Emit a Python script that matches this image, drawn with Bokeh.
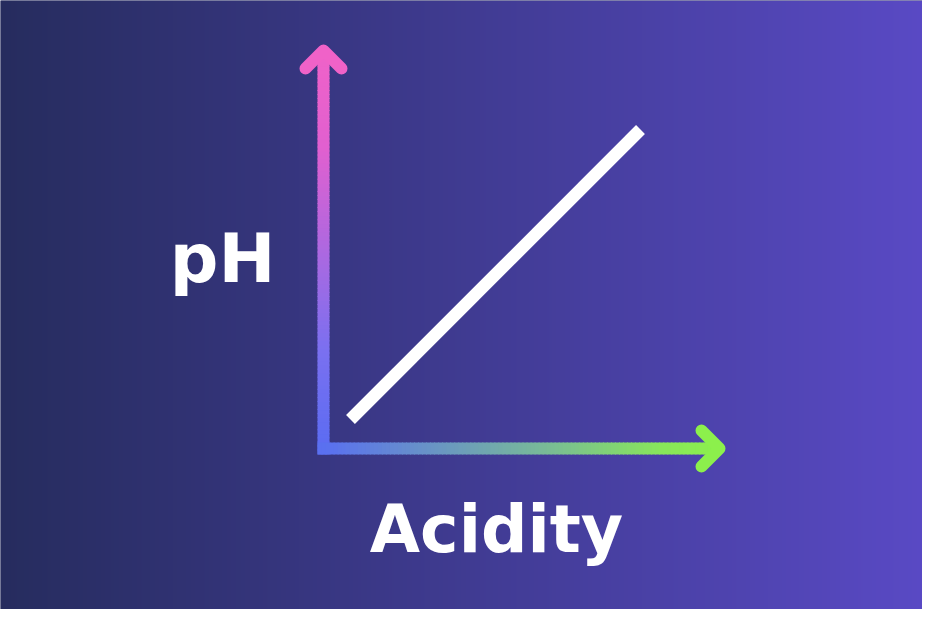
import numpy as np
from bokeh.plotting import figure
from bokeh.models import Range1d, Label
from bokeh.embed import file_html
from bokeh.resources import INLINE

# ---- data (units: relative to the axes origin) ----
acidity = [27, 317]          # diagonal line, x
ph = [29, 319]               # diagonal line, y
x_axis_end = 396
y_axis_end = 398
arrow_head = 18
x_title = "Acidity"
y_title = "pH"

# ---- colours ----
BG_LEFT = (0x26, 0x2c, 0x5e)
BG_RIGHT = (0x5a, 0x4a, 0xc6)
V_STOPS = [(0.0, (0x5a, 0x6c, 0xf2)), (0.25, (0x7a, 0x70, 0xf0)),
           (0.75, (0xe0, 0x60, 0xd0)), (1.0, (0xf0, 0x62, 0xc8))]
H_STOPS = [(0.0, (0x5a, 0x70, 0xf0)), (0.55, (0x78, 0xba, 0x98)),
           (0.85, (0x88, 0xe6, 0x5a)), (1.0, (0x8c, 0xf0, 0x4c))]

def interp(stops, t):
    for (t0, c0), (t1, c1) in zip(stops[:-1], stops[1:]):
        if t <= t1:
            f = 0 if t1 == t0 else (t - t0) / (t1 - t0)
            return tuple(int(round(a + (b - a) * f)) for a, b in zip(c0, c1))
    return stops[-1][1]

def hexc(c):
    return "#%02x%02x%02x" % c

W, H = 922, 609
OX, OY = 323, 448  # origin in figure pixels
x0, x1 = -OX, W - OX
y0, y1 = OY - H, OY

p = figure(width=W, height=H, x_range=Range1d(x0, x1), y_range=Range1d(y0, y1),
           output_backend="svg", toolbar_location=None, min_border=0)
p.axis.visible = False
p.grid.visible = False
p.outline_line_color = None
p.background_fill_color = hexc(BG_LEFT)
p.border_fill_color = hexc(BG_LEFT)

# background gradient
img = np.zeros((2, W), dtype=np.uint32)
view = img.view(dtype=np.uint8).reshape((2, W, 4))
for i in range(W):
    t = i / 938.0
    c = [int(round(a + (b - a) * t)) for a, b in zip(BG_LEFT, BG_RIGHT)]
    view[:, i, 0] = c[0]
    view[:, i, 1] = c[1]
    view[:, i, 2] = c[2]
    view[:, i, 3] = 255
p.image_rgba(image=[img], x=x0, y=y0, dw=x1 - x0, dh=y1 - y0)

LW = 12
n = 100
# vertical axis with gradient
ys = np.linspace(-6, y_axis_end, n + 1)
p.segment(x0=[0] * n, y0=ys[:-1], x1=[0] * n, y1=ys[1:] + 1,
          line_width=LW, line_cap="butt",
          line_color=[hexc(interp(V_STOPS, (v + 6) / (y_axis_end + 6))) for v in ys[:-1]])
# horizontal axis with gradient
xs = np.linspace(-6, x_axis_end, n + 1)
p.segment(x0=xs[:-1], y0=[0] * n, x1=xs[1:] + 1, y1=[0] * n,
          line_width=LW, line_cap="butt",
          line_color=[hexc(interp(H_STOPS, max(v, 0) / x_axis_end)) for v in xs[:-1]])
# arrow heads
p.line([-arrow_head, 0, arrow_head], [y_axis_end - arrow_head, y_axis_end, y_axis_end - arrow_head],
       line_width=LW, line_color=hexc(V_STOPS[-1][1]), line_cap="round", line_join="round")
p.line([x_axis_end - arrow_head, x_axis_end, x_axis_end - arrow_head], [arrow_head, 0, -arrow_head],
       line_width=LW, line_color=hexc(H_STOPS[-1][1]), line_cap="round", line_join="round")

# diagonal data line
p.line(acidity, ph, line_width=12.5, line_color="white", line_cap="butt")

# titles
p.add_layout(Label(x=-101, y=190, text=y_title, text_color="white",
                   text_font="DejaVu Sans", text_font_style="bold", text_font_size="68px",
                   text_align="center", text_baseline="alphabetic"))
p.add_layout(Label(x=173, y=-81, text=x_title, text_color="white",
                   text_font="DejaVu Sans", text_font_style="bold", text_font_size="65px",
                   text_align="center", text_baseline="alphabetic"))

open("out.html", "w").write(file_html(p, INLINE))
